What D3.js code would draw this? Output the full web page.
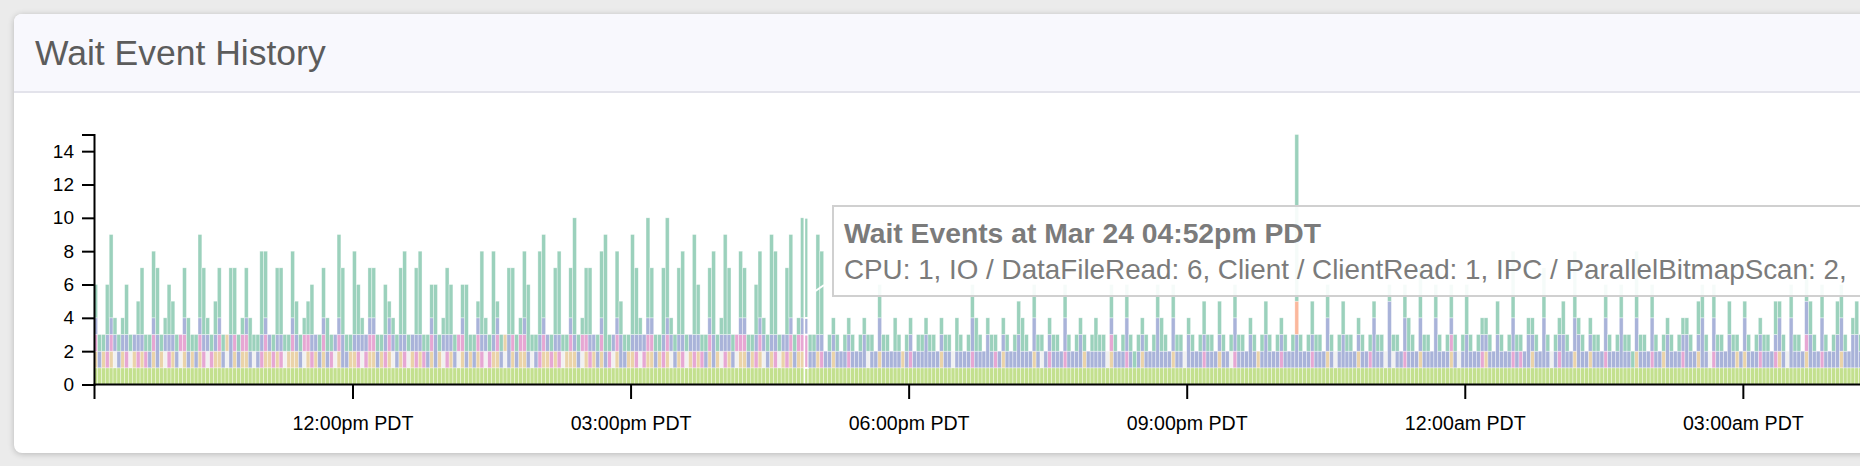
<!DOCTYPE html>
<html>
<head>
<meta charset="utf-8">
<script src="https://cdn.jsdelivr.net/npm/d3@7"></script>
<style>
html, body { margin: 0; padding: 0; width: 1860px; height: 466px; overflow: hidden; background: #ebebeb;
  font-family: "Helvetica Neue", Helvetica, Arial, "Liberation Sans", sans-serif; }
.card { position: absolute; left: 14px; top: 14px; width: 1920px; height: 439px; background: #fff;
  border-radius: 8px; box-shadow: 0 1px 6px rgba(0,0,0,0.22); overflow: hidden; }
.card .header { height: 77px; background: #f8f8fd; border-bottom: 2px solid #e3e3eb; }
svg { position: absolute; left: 0; top: 0; }
</style>
</head>
<body>
<div class="card"><div class="header"></div></div>
<svg id="chart" width="1860" height="466"></svg>
<script>
// Data

var categories = ["CPU", "LWLock / buffer_io", "IO / BufFileRead", "IPC / ParallelBitmapScan",
  "Client / ClientRead", "IO / DataFilePrefetch", "IO / DataFileRead"];
var tooltipOrder = ["CPU", "IO / DataFileRead", "Client / ClientRead", "IPC / ParallelBitmapScan",
  "IO / BufFileRead", "LWLock / buffer_io", "IO / DataFilePrefetch"];
var categoryColors = ["#c3e08e", "#f1f1f1", "#ead3a9", "#e6a7d3", "#a9b3d9", "#fbb89d", "#9bd1bc"];

// one sample every 2.5 minutes, times are PDT wall clock
var sampleStart = Date.UTC(2019, 2, 24, 9, 12, 30);
var sampleStepMs = 150000;
var axisStart = Date.UTC(2019, 2, 24, 9, 12, 40);
var axisEnd = Date.UTC(2019, 2, 25, 4, 30, 0);
var yTicks = [0, 2, 4, 6, 8, 10, 12, 14];
var hoverIndex = 184;

// counts per sample, one character per bar, one line per hour
var cpu = counts(`
111111111111111111111111
111111111111111111111111
111111111111111111111111
111111111111111111111111
111111111111111111111111
111111111111111111111111
111111111111111111111111
111111111111111111111111
111111111111111111111111
111111111111111111111111
111111111111111111111111
111111111111111111111111
111111111111111111111111
111111111111111111111111
111111111111111111111111
111111111111111111111111
111111111111111111111111
111111111111111111111111
111111111111111111111111
1111`);

var bufferIo = counts(`
000001000100000000100010
000001000010000001000000
010000100000001000000100
000001000100000000100010
000001000010000001000000
010000100000001000000100
000001000100000000100010
000001000100000000000000
000000001000000000000000
000000100000000000000000
000001000000000000000010
000000000000000000100000
000000100000000000000000
000000000100000000000010
100000000000000001000000
000000000000000001000000
000000000000000000000000
000000000010000000000000
000000100000000000000000
0000`);

var bufFileRead = counts(`
101010010010100101001001
010100011010101100001101
001110010101000100110001
101010010010100101001001
010100011010101100001101
001110010101000100110001
101010010010100101001001
101010010010101100010001
000000000001000001000000
000100000000000000010000
000100000000000010000001
000000010000000100000000
000100000000010000000000
000000010000000100000000
000000010000000100000000
100000000000100000000001
000100000000000100000010
000000010000000001010000
000010000001000000001000
0000`);

var bitmapScan = counts(`
100110001001010100010011
000110101000101100011010
100100111001010100001011
100110001001010100010011
000110101000101100011010
100100111001010100001011
100110001001010100010011
100110001001101120001000
000100000000000000010000
000000000001000001000000
000000010001000000000001
000100000000000000000001
000000010000000000010000
000100000000000000100000
000100000000000100000001
000000010100000000010000
000000010000000000010000
000100000001000000000001
000100000001000100000000
0001`);

var clientRead = counts(`
110111111011101120111101
101111011102010110111101
100111001111101121011111
110111111011101120111101
101111011102010110111101
100111001111101121011111
110111111011101120111101
110111111011110111111111
111111120112111110111112
111111011112111210111112
111210111112111201111101
111210111113111211021111
111111021112101211111112
111111121012111111031104
011211121113111110121111
111211121012111310112112
211111121113110211121102
111121113102111210121111
111121031112211211122112
2111`);

var prefetch = counts(`
000000000000000000000000
000000000000000000000000
000000000000000000000000
000000000000000000000000
000000000000000000000000
000000000000000000000000
000000000000000000000000
000000000000000000000000
000000000000000000000000
000000000000000000000000
000000000000000000000000
000000000000000000000000
000000000000000000000002
000000000000000000000000
000000000000000000000000
000000000000000000000000
000000000000000000000000
000000000000000000000000
000000000000000000000000
0000`);

var dataFileRead = counts(`
211351113102411441132103
211541123104411321154014
411421123013210541153103
311311145104511231143102
411151151104411441155014
511371144014710421164106
311461145106311351164104
311341165104511661165011
101110111102110210110111
110111021012210111011012
210211011102101110121102
101211111012210211011012
11021012110110121011101a
101211021012110110111101
110221031102101210131011
110210141101110310112104
110111021012111411021011
101111022102110211011011
110211021102210210122101
2102`);

var seriesValues = [cpu, bufferIo, bufFileRead, bitmapScan, clientRead, prefetch, dataFileRead];

// Chart

drawChart();

// Functions

function counts(s) {
    return s.replace(/\s+/g, "").split("").map(function(c) { return parseInt(c, 36); });
}

function drawChart() {
    var svg = d3.select("#chart");
    var font = '"Helvetica Neue", Helvetica, Arial, "Liberation Sans", sans-serif';
    var pxPerHour = 92.69;
    var plotLeft = 94;
    var hours = (axisEnd - axisStart) / 3600000;

    var rows = cpu.map(function(v, i) {
        var row = {time: new Date(sampleStart + i * sampleStepMs), index: i};
        categories.forEach(function(c, k) { row[c] = seriesValues[k][i]; });
        return row;
    });

    var x = d3.scaleUtc().domain([axisStart, axisEnd]).range([plotLeft, plotLeft + hours * pxPerHour]);
    var y = d3.scaleLinear().domain([0, 15]).range([384.5, 134.5]);
    var color = d3.scaleOrdinal().domain(categories).range(categoryColors);

    svg.append("text")
        .attr("x", 35).attr("y", 65)
        .attr("font-family", font).attr("font-size", 35.5)
        .attr("fill", "#5c5c5c")
        .text("Wait Event History");

    var stacked = d3.stack().keys(categories)(rows);

    var barW = x(new Date(sampleStart + sampleStepMs)) - x(new Date(sampleStart));

    var layers = svg.append("g").attr("class", "bars")
        .selectAll("g").data(stacked).enter().append("g")
        .attr("fill", function(d) { return color(d.key); });

    layers.selectAll("rect")
        .data(function(d) { return d.filter(function(p) { return p[1] > p[0]; }); })
        .enter().append("rect")
        .attr("x", function(p) { return x(p.data.time); })
        .attr("width", barW)
        .attr("y", function(p) { return y(p[1]); })
        .attr("height", function(p) { return y(p[0]) - y(p[1]); })
        .attr("stroke", "#fff")
        .attr("stroke-opacity", function(p) { return p.data.index === hoverIndex ? 1 : 0.6; })
        .attr("stroke-width", function(p) { return p.data.index === hoverIndex ? 1.6 : 0.6; });

    var yAxis = svg.append("g")
        .attr("transform", "translate(" + plotLeft + ",0)")
        .call(d3.axisLeft(y).tickValues(yTicks).tickSize(12).tickPadding(8));

    var xAxis = svg.append("g")
        .attr("transform", "translate(0,384)")
        .call(d3.axisBottom(x)
            .ticks(d3.utcHour.every(3))
            .tickSize(15).tickPadding(17)
            .tickFormat(function(d) { return d3.utcFormat("%I:%M%p")(d).toLowerCase() + " PDT"; }));

    [yAxis, xAxis].forEach(function(a) {
        a.attr("font-family", font);
        a.selectAll(".domain, .tick line").attr("stroke", "#000").attr("stroke-width", 2);
        a.selectAll(".tick text").attr("fill", "#000");
    });
    yAxis.attr("font-size", 19);
    xAxis.attr("font-size", 19.6);

    // tooltip for the hovered sample
    var hovered = rows[hoverIndex];
    var tip = svg.append("g").attr("class", "tooltip");

    tip.append("line")
        .attr("x1", 814).attr("y1", 292).attr("x2", 824).attr("y2", 285)
        .attr("stroke", "#fff").attr("stroke-width", 2);

    tip.append("rect")
        .attr("x", 833).attr("y", 206)
        .attr("width", 1200).attr("height", 90)
        .attr("fill", "#fff").attr("fill-opacity", 0.9)
        .attr("stroke", "#d0d0d0").attr("stroke-width", 2);

    tip.append("text")
        .attr("x", 844).attr("y", 243)
        .attr("font-family", font).attr("font-size", 28.3).attr("font-weight", "bold")
        .attr("fill", "#7b7b7b")
        .text("Wait Events at " + d3.utcFormat("%b %d %I:%M%p")(hovered.time).replace(/AM|PM/, function(m) { return m.toLowerCase(); }) + " PDT");

    tip.append("text")
        .attr("x", 844).attr("y", 279)
        .attr("font-family", font).attr("font-size", 27.8)
        .attr("fill", "#7b7b7b")
        .text(tooltipOrder.filter(function(c) { return hovered[c] > 0; })
            .map(function(c) { return c + ": " + hovered[c] + ", "; }).join(""));
}
</script>
</body>
</html>
